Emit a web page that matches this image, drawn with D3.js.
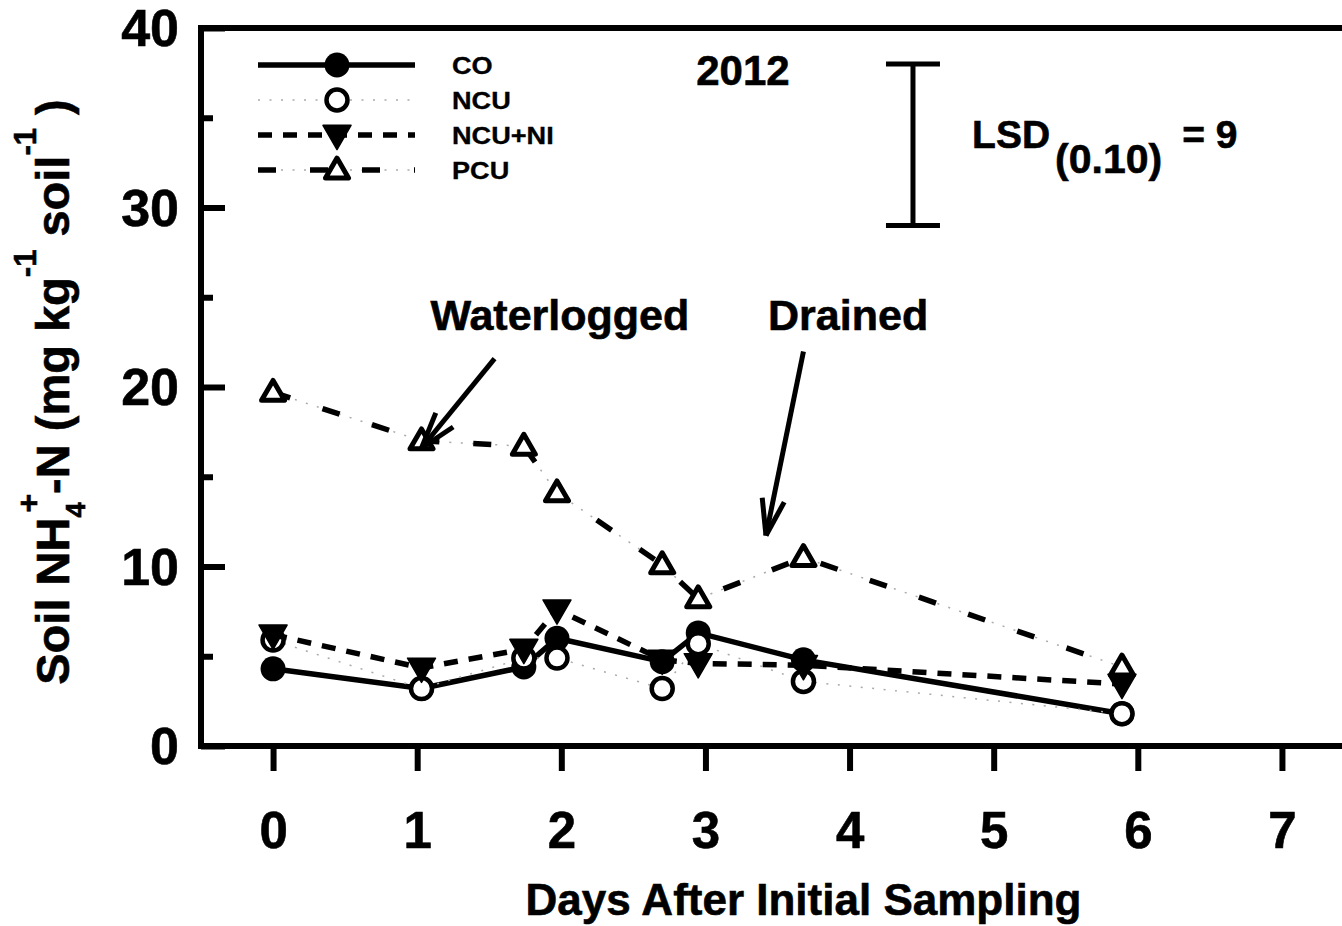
<!DOCTYPE html>
<html>
<head>
<meta charset="utf-8">
<script src="https://cdn.jsdelivr.net/npm/d3@7"></script>
<style>
  body { margin: 0; background: #fff; }
  svg { display: block; }
  text { font-family: "Liberation Sans", Arial, Helvetica, sans-serif; font-weight: bold; fill: #000;
         stroke: #000; stroke-width: 0.6px; }
</style>
</head>
<body>
<svg id="chart" width="1342" height="926"></svg>
<script>
// Soil NH4+-N after initial sampling, 2012
const sampleDays  = [0, 1.03, 1.74, 1.97, 2.70, 2.95, 3.68, 5.89];
const coValues    = [4.3, 3.2, 4.4, 6.0, 4.7, 6.3, 4.8, 1.8];
const ncuValues   = [5.9, 3.2, 4.9, 4.9, 3.2, 5.7, 3.6, 1.8];
const ncuNiValues = [6.2, 4.35, 5.4, 7.6, 4.8, 4.6, 4.5, 3.45];
const pcuValues   = [19.7, 17.0, 16.7, 14.1, 10.1, 8.2, 10.5, 4.4];
const seriesNames = ["CO", "NCU", "NCU+NI", "PCU"];
const xTickValues = [0, 1, 2, 3, 4, 5, 6, 7];
const yTickValues = [0, 10, 20, 30, 40];
const yMinorTickValues = [5, 15, 25, 35];
const lsdLow = 29, lsdHigh = 38;   // LSD(0.10) = 9

const svg = d3.select("#chart");
svg.append("rect").attr("width", 1342).attr("height", 926).attr("fill", "#fff");

const x = d3.scaleLinear().domain([-0.5, 7.5]).range([201, 1354]);
const y = d3.scaleLinear().domain([0, 40]).range([746, 28]);

const AXIS_W = 6;
const FONT = '"Liberation Sans", Arial, sans-serif';

// frame
svg.append("rect")
  .attr("x", x(-0.5)).attr("y", y(40))
  .attr("width", x(7.5) - x(-0.5)).attr("height", y(0) - y(40))
  .attr("fill", "none").attr("stroke", "#000").attr("stroke-width", AXIS_W);

// y axis: inward ticks, labels on the left
const yAxis = svg.append("g").attr("transform", `translate(${x(-0.5)},0)`)
  .call(d3.axisLeft(y).tickValues(yTickValues).tickSize(-24).tickSizeOuter(0).tickPadding(22));
const yMinor = svg.append("g").attr("transform", `translate(${x(-0.5)},0)`)
  .call(d3.axisLeft(y).tickValues(yMinorTickValues).tickSize(-12).tickSizeOuter(0).tickFormat(""));
[yAxis, yMinor].forEach(g => {
  g.select(".domain").remove();
  g.selectAll(".tick line").attr("stroke", "#000").attr("stroke-width", AXIS_W);
});
yAxis.selectAll(".tick text").attr("font-size", 52).attr("dy", "0.34em")
  .style("font-family", FONT).style("font-weight", "bold");

// x axis: outward ticks
const xAxis = svg.append("g").attr("transform", `translate(0,${y(0)})`)
  .call(d3.axisBottom(x).tickValues(xTickValues).tickSize(25).tickSizeOuter(0).tickPadding(41));
xAxis.select(".domain").remove();
xAxis.selectAll(".tick line").attr("stroke", "#000").attr("stroke-width", AXIS_W);
xAxis.selectAll(".tick text").attr("font-size", 51)
  .style("font-family", FONT).style("font-weight", "bold");

// axis titles
svg.append("text")
  .attr("x", (x(0) + x(7)) / 2 + 26).attr("y", 915)
  .attr("text-anchor", "middle").attr("font-size", 44)
  .text("Days After Initial Sampling");

const yTitle = svg.append("text")
  .attr("transform", "translate(69,392) rotate(-90)")
  .attr("text-anchor", "middle").attr("font-size", 47);
yTitle.append("tspan").text("Soil NH");
yTitle.append("tspan").attr("font-size", 27).attr("dy", 16).text("4");
yTitle.append("tspan").attr("font-size", 32).attr("dx", -10).attr("dy", -46).text("+");
yTitle.append("tspan").attr("dy", 30).text("-N (mg kg");
yTitle.append("tspan").attr("font-size", 31).attr("dy", -33).text("-1");
yTitle.append("tspan").attr("dy", 33).text(" soil");
yTitle.append("tspan").attr("font-size", 31).attr("dy", -33).text("-1");
yTitle.append("tspan").attr("dy", 33).text(" )");

// series definitions
const series = [
  { name: seriesNames[0], values: coValues },
  { name: seriesNames[1], values: ncuValues },
  { name: seriesNames[2], values: ncuNiValues },
  { name: seriesNames[3], values: pcuValues }
].map(s => ({ ...s, points: sampleDays.map((d, i) => [d, s.values[i]]) }));

const lineGen = d3.line().x(d => x(d[0])).y(d => y(d[1]));

function triPath(side, down) {
  const h = side * Math.sqrt(3) / 2;
  const top = -0.6 * h, bot = 0.4 * h;
  const p = down
    ? [[-side / 2, -bot], [side / 2, -bot], [0, -top]]
    : [[0, top], [side / 2, bot], [-side / 2, bot]];
  return "M" + p.map(q => q.join(",")).join("L") + "Z";
}

// line style per series
function styleLine(g, name, d) {
  if (name === "CO") {
    g.append("path").attr("d", d).attr("fill", "none").attr("stroke", "#000").attr("stroke-width", 5.5);
  } else if (name === "NCU") {
    g.append("path").attr("d", d).attr("fill", "none").attr("stroke", "#aaa").attr("stroke-width", 1.5)
      .attr("stroke-dasharray", "2,9.5");
  } else if (name === "NCU+NI") {
    g.append("path").attr("d", d).attr("fill", "none").attr("stroke", "#000").attr("stroke-width", 5.5)
      .attr("stroke-dasharray", "14,11");
  } else {
    g.append("path").attr("d", d).attr("fill", "none").attr("stroke", "#aaa").attr("stroke-width", 1.5)
      .attr("stroke-dasharray", "2,9.5");
    g.append("path").attr("d", d).attr("fill", "none").attr("stroke", "#000").attr("stroke-width", 5.5)
      .attr("stroke-dasharray", "18,34");
  }
}

function drawMarker(g, name, cx, cy) {
  if (name === "CO") {
    g.append("circle").attr("cx", cx).attr("cy", cy).attr("r", 12.5).attr("fill", "#000");
  } else if (name === "NCU") {
    g.append("circle").attr("cx", cx).attr("cy", cy).attr("r", 10.5)
      .attr("fill", "#fff").attr("stroke", "#000").attr("stroke-width", 4.5);
  } else if (name === "NCU+NI") {
    g.append("path").attr("d", triPath(28, true)).attr("transform", `translate(${cx},${cy})`)
      .attr("fill", "#000").attr("stroke", "#000").attr("stroke-width", 1.5).attr("stroke-linejoin", "round");
  } else {
    g.append("path").attr("d", triPath(23, false)).attr("transform", `translate(${cx},${cy})`)
      .attr("fill", "#fff").attr("stroke", "#000").attr("stroke-width", 5).attr("stroke-linejoin", "round");
  }
}

const plot = svg.append("g");
series.forEach(s => {
  const g = plot.append("g");
  styleLine(g, s.name, lineGen(s.points));
  s.points.forEach(p => drawMarker(g, s.name, x(p[0]), y(p[1])));
});

// legend
const legend = svg.append("g");
const legendRowY = [65, 100, 135, 170];
series.forEach((s, i) => {
  const g = legend.append("g");
  const ly = legendRowY[i];
  styleLine(g, s.name, d3.line()([[258, ly], [415, ly]]));
  drawMarker(g, s.name, 337, ly);
  g.append("text").attr("transform", `translate(452,${ly + 9}) scale(1.18,1)`)
    .attr("font-size", 23).style("stroke-width", "0.3px").text(s.name);
});

// year label
svg.append("text").attr("x", x(3.26)).attr("y", y(36.8))
  .attr("text-anchor", "middle").attr("font-size", 42).text("2012");

// LSD bar
const lsdX = x(4.44);
const lsd = svg.append("g").attr("stroke", "#000").attr("stroke-width", 5);
lsd.append("line").attr("x1", lsdX).attr("x2", lsdX).attr("y1", y(lsdLow)).attr("y2", y(lsdHigh));
[lsdLow, lsdHigh].forEach(v => lsd.append("line")
  .attr("x1", lsdX - 27).attr("x2", lsdX + 27).attr("y1", y(v)).attr("y2", y(v)));

const lsdText = svg.append("text")
  .attr("x", x(4.85)).attr("y", y(33.3))
  .attr("font-size", 39);
lsdText.append("tspan").text("LSD");
lsdText.append("tspan").attr("font-size", 41).attr("dx", 5).attr("dy", 25).text("(0.10)");
lsdText.append("tspan").attr("dx", 20).attr("dy", -25).text("= 9");

// annotations
svg.append("text").attr("x", x(1.99)).attr("y", y(23.2))
  .attr("text-anchor", "middle").attr("font-size", 43).text("Waterlogged");
svg.append("text").attr("x", x(3.99)).attr("y", y(23.2))
  .attr("text-anchor", "middle").attr("font-size", 43).text("Drained");

function arrow(from, to) {
  const x1 = x(from[0]), y1 = y(from[1]), x2 = x(to[0]), y2 = y(to[1]);
  const ang = Math.atan2(y1 - y2, x1 - x2);
  const g = svg.append("g").attr("stroke", "#000").attr("stroke-width", 5).attr("fill", "none");
  g.append("line").attr("x1", x1).attr("y1", y1).attr("x2", x2).attr("y2", y2);
  [-0.3, 0.3].forEach(da => {
    g.append("line").attr("x1", x2).attr("y1", y2)
      .attr("x2", x2 + 38 * Math.cos(ang + da)).attr("y2", y2 + 38 * Math.sin(ang + da));
  });
}
arrow([1.537, 21.58], [1.03, 16.6]);
arrow([3.68, 21.98], [3.42, 11.73]);
</script>
</body>
</html>
